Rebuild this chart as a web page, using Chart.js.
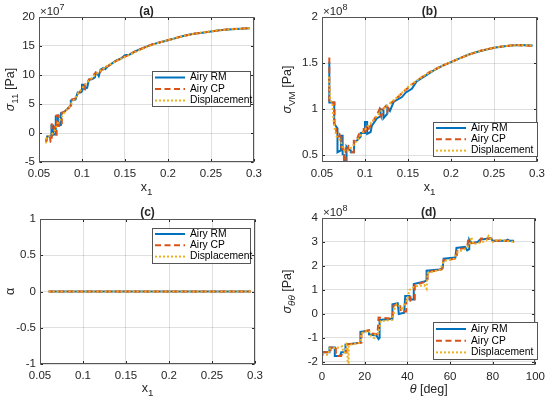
<!DOCTYPE html>
<html><head><meta charset="utf-8">
<script src="https://cdn.jsdelivr.net/npm/chart.js@4.4.0/dist/chart.umd.min.js"></script>
<style>
html,body{margin:0;padding:0;background:#fff;}
#wrap{position:relative;width:550px;height:402px;overflow:hidden;background:#fff;}
canvas{position:absolute;}
</style></head><body>
<div id="wrap">
<canvas id="ca" width="275" height="201" style="left:0px;top:0px"></canvas>
<canvas id="cb" width="275" height="201" style="left:275px;top:0px"></canvas>
<canvas id="cc" width="275" height="201" style="left:0px;top:201px"></canvas>
<canvas id="cd" width="275" height="201" style="left:275px;top:201px"></canvas>
</div>
<script>
// ---------- data ----------
const seriesNames = ['Airy RM', 'Airy CP', 'Displacement'];

// x-axis ticks
const x1Ticks = [0.05, 0.1, 0.15, 0.2, 0.25, 0.3];
const thetaTicks = [0, 20, 40, 60, 80, 100];
// y-axis ticks
const aYTicks = [-5, 0, 5, 10, 15, 20];
const bYTicks = [0.5, 1, 1.5, 2];
const cYTicks = [-1, -0.5, 0, 0.5, 1];
const dYTicks = [-2, -1, 0, 1, 2, 3, 4];

// (a) sigma_11 [x1, value x1e7]
const aRM = [[0.0585,-1.5],[0.0595,-0.6],[0.0645,-0.5],[0.0645,1.3],[0.0665,1.3],[0.0665,-0.3],[0.0695,-0.2],[0.0695,2.9],[0.072,3.0],[0.072,1.3],[0.0755,1.4],[0.0755,3.4],[0.079,3.6],[0.082,4.0],[0.085,4.5],[0.087,4.7],[0.087,5.6],[0.0905,5.7],[0.0925,5.8],[0.095,7.0],[0.0985,7.0],[0.1,7.2],[0.1,8.3],[0.1025,8.3],[0.1025,7.6],[0.106,7.8],[0.108,9.2],[0.112,9.3],[0.115,9.6],[0.116,10.4],[0.118,10.2],[0.1195,9.8],[0.1215,10.9],[0.125,11.2],[0.127,11.0],[0.13,11.5],[0.135,12.0],[0.14,12.5],[0.145,12.8],[0.15,13.4],[0.155,13.5],[0.16,13.9],[0.165,14.3],[0.17,14.6],[0.18,15.2],[0.19,15.6],[0.2,16.0],[0.21,16.4],[0.22,16.8],[0.23,17.1],[0.24,17.3],[0.25,17.5],[0.26,17.7],[0.27,17.85],[0.28,17.95],[0.295,18.05]];
const aCP = [[0.058,-1.7],[0.0595,-0.6],[0.0625,-0.5],[0.0635,-1.5],[0.0648,-1.5],[0.0648,1.5],[0.068,1.5],[0.068,-0.3],[0.0705,-0.3],[0.0705,3.0],[0.073,3.0],[0.073,1.2],[0.0765,1.2],[0.0765,3.5],[0.08,3.7],[0.083,3.9],[0.086,4.6],[0.0885,5.0],[0.0885,5.8],[0.092,5.9],[0.094,6.6],[0.097,7.0],[0.1,7.5],[0.1035,7.5],[0.1035,8.3],[0.106,8.6],[0.108,9.2],[0.111,9.3],[0.1145,10.2],[0.117,10.4],[0.119,10.0],[0.121,10.5],[0.1235,11.0],[0.126,10.9],[0.128,11.4],[0.132,11.7],[0.137,12.2],[0.142,12.6],[0.147,13.0],[0.152,13.3],[0.157,13.7],[0.162,14.1],[0.167,14.4],[0.172,14.7],[0.182,15.3],[0.192,15.7],[0.202,16.1],[0.212,16.5],[0.222,16.85],[0.232,17.15],[0.242,17.35],[0.252,17.55],[0.262,17.75],[0.272,17.9],[0.282,18.0],[0.295,18.05]];
const aDP = [[0.058,-1.8],[0.059,-0.8],[0.062,-0.5],[0.065,-0.3],[0.068,0.4],[0.07,1.0],[0.072,1.8],[0.075,2.4],[0.078,3.2],[0.08,3.6],[0.085,4.4],[0.088,5.2],[0.09,5.6],[0.095,6.7],[0.1,7.7],[0.105,8.6],[0.11,9.3],[0.115,10.0],[0.12,10.6],[0.125,11.1],[0.13,11.6],[0.14,12.4],[0.15,13.1],[0.16,13.8],[0.17,14.5],[0.18,15.1],[0.19,15.6],[0.2,16.0],[0.21,16.4],[0.22,16.8],[0.23,17.1],[0.24,17.35],[0.25,17.55],[0.26,17.7],[0.27,17.85],[0.28,17.95],[0.295,18.05]];

// (b) sigma_VM [x1, value x1e8]
const bRM = [[0.0585,1.51],[0.0585,1.07],[0.0642,1.07],[0.0642,0.84],[0.068,0.79],[0.068,0.53],[0.072,0.55],[0.072,0.71],[0.074,0.71],[0.074,0.51],[0.0758,0.5],[0.0758,0.4],[0.0785,0.4],[0.0785,0.59],[0.0805,0.56],[0.0835,0.55],[0.0835,0.53],[0.0873,0.53],[0.0873,0.64],[0.091,0.66],[0.095,0.7],[0.095,0.74],[0.1,0.74],[0.1,0.86],[0.1025,0.86],[0.1025,0.73],[0.1065,0.75],[0.108,0.82],[0.114,0.9],[0.118,0.92],[0.118,1.0],[0.1215,0.98],[0.1215,0.9],[0.126,0.95],[0.126,1.02],[0.129,0.98],[0.1335,1.08],[0.143,1.13],[0.1475,1.18],[0.1545,1.22],[0.16,1.3],[0.17,1.36],[0.18,1.42],[0.19,1.47],[0.2,1.51],[0.21,1.55],[0.22,1.59],[0.23,1.62],[0.24,1.645],[0.25,1.665],[0.26,1.68],[0.27,1.69],[0.28,1.695],[0.295,1.69]];
const bCP = [[0.0585,1.56],[0.0585,1.07],[0.0645,1.07],[0.0645,0.83],[0.0665,0.8],[0.0665,0.7],[0.0705,0.7],[0.0705,0.73],[0.0725,0.73],[0.0725,0.58],[0.0755,0.55],[0.0755,0.42],[0.0775,0.42],[0.0775,0.6],[0.0805,0.6],[0.0805,0.53],[0.087,0.53],[0.087,0.67],[0.091,0.68],[0.094,0.75],[0.0985,0.75],[0.0985,0.8],[0.101,0.82],[0.101,0.75],[0.104,0.78],[0.107,0.83],[0.11,0.88],[0.113,0.92],[0.115,0.96],[0.117,1.0],[0.119,0.92],[0.121,1.0],[0.124,1.03],[0.126,0.97],[0.128,1.05],[0.135,1.1],[0.145,1.19],[0.155,1.27],[0.165,1.34],[0.175,1.4],[0.185,1.45],[0.195,1.49],[0.205,1.53],[0.215,1.57],[0.225,1.605],[0.235,1.635],[0.245,1.655],[0.255,1.675],[0.265,1.685],[0.275,1.695],[0.285,1.69],[0.295,1.685]];
const bDP = [[0.058,1.35],[0.0595,1.1],[0.062,1.07],[0.0635,0.88],[0.065,0.78],[0.067,0.7],[0.069,0.68],[0.071,0.66],[0.073,0.62],[0.075,0.56],[0.077,0.54],[0.08,0.55],[0.083,0.57],[0.086,0.6],[0.09,0.65],[0.094,0.7],[0.098,0.75],[0.102,0.8],[0.106,0.84],[0.11,0.88],[0.115,0.94],[0.12,0.99],[0.125,1.03],[0.13,1.07],[0.14,1.15],[0.15,1.24],[0.16,1.31],[0.17,1.37],[0.18,1.42],[0.19,1.47],[0.2,1.51],[0.21,1.55],[0.22,1.59],[0.23,1.62],[0.24,1.645],[0.25,1.665],[0.26,1.68],[0.27,1.69],[0.28,1.695],[0.295,1.69]];

// (c) alpha [x1, value]
const cRM = [[0.06,0],[0.295,0]];
const cCP = [[0.06,0],[0.295,0]];
const cDP = [[0.06,0],[0.295,0]];

// (d) sigma_thetatheta [theta deg, value x1e8]
const dRM = [[0,-1.6],[3.5,-1.6],[3.5,-1.4],[6,-1.4],[6,-1.75],[8.5,-1.75],[9,-1.6],[11,-1.6],[11,-1.28],[18,-1.2],[18,-0.75],[22,-0.7],[22,-0.85],[25.5,-0.9],[26.5,-1.05],[27,-1.0],[27,-0.25],[33,-0.2],[33,0.4],[35.5,0.45],[36,0.0],[38.5,0.05],[39,0.75],[41,0.75],[41,0.6],[43,0.6],[43,1.25],[48,1.35],[49,1.4],[49,1.8],[55,1.85],[56.5,1.9],[57,2.3],[62.5,2.35],[63,2.75],[67,2.8],[68,2.65],[69,2.7],[69,3.1],[70,2.95],[73,3.0],[74,3.1],[79,3.15],[80,3.05],[86,3.05],[87,3.1],[88,3.05],[90,3.05]];
const dCP = [[0,-1.6],[4,-1.6],[4,-1.4],[6.5,-1.4],[6.5,-1.75],[9,-1.75],[9.5,-1.65],[11.5,-1.6],[11.5,-1.28],[18.5,-1.2],[18.5,-0.75],[22,-0.68],[22.5,-0.8],[26,-0.85],[26.5,-0.15],[33,-0.2],[33.5,0.35],[36.5,0.4],[37,0.1],[39.5,0.1],[39.5,0.7],[41.5,0.7],[41.5,0.55],[43.5,0.6],[43.5,1.2],[48.5,1.35],[49.5,1.45],[49.5,1.75],[56,1.85],[57,2.25],[63,2.3],[63.5,2.7],[68,2.75],[68.5,3.1],[69.5,3.0],[70.5,2.95],[74,3.0],[74.5,3.15],[80,3.15],[80.5,3.05],[85,3.05],[87.5,3.05],[90,3.0]];
const dDP = [[0,-1.7],[3,-1.7],[3.5,-1.45],[8,-1.4],[9.5,-1.35],[10,-1.6],[11,-1.6],[11.5,-1.3],[12,-1.4],[12,-2.3],[12.5,-2.3],[12.5,-1.3],[18,-1.2],[18.5,-0.8],[22,-0.7],[23,-0.95],[24.5,-1.0],[25,-0.8],[26.5,-0.8],[27.5,-0.3],[33,-0.25],[34,0.2],[35,0.4],[37,0.3],[37.5,0.15],[38.5,0.35],[40,0.6],[41,1.0],[43.5,1.15],[48,1.2],[49,1.05],[49.5,1.7],[55.5,1.85],[57,2.2],[62,2.3],[63,2.55],[67,2.7],[69,2.85],[70,3.2],[71,2.9],[73,2.95],[77,3.05],[78,3.25],[80,3.0],[83,3.1],[86,3.05],[90,3.0]];

// ---------- styling / drawing ----------
const FAM = "'Liberation Sans', Arial, Helvetica, sans-serif";
Chart.defaults.font.family = FAM;
const COLORS = ['#0072BD', '#D95319', '#EDB120'];
const DASHES = [[], [6, 3.5], [2, 2]];
const GRID = 'rgba(38,38,38,0.15)';
const AXC = '#262626';

function richDraw(ctx, parts, cx, cy, rot, size, align) {
  const fontOf = p => {
    const s = (p.sub || p.sup) ? size * 0.78 : size;
    return (p.it ? 'italic ' : '') + (p.b ? 'bold ' : '') + s.toFixed(1) + 'px ' + FAM;
  };
  let w = 0;
  parts.forEach(p => { ctx.font = fontOf(p); p._w = ctx.measureText(p.t).width; w += p._w; });
  ctx.save();
  ctx.translate(cx, cy);
  ctx.rotate(rot);
  ctx.textBaseline = 'alphabetic';
  ctx.textAlign = 'left';
  let x = align === 'left' ? 0 : -w / 2;
  parts.forEach(p => {
    ctx.font = fontOf(p);
    const dy = p.sub ? size * 0.32 : (p.sup ? -size * 0.42 : 0);
    ctx.fillText(p.t, x, size * 0.35 + dy);
    x += p._w;
  });
  ctx.restore();
}

const matlabPlugin = {
  id: 'matlab',
  afterDraw(chart, args, o) {
    const ctx = chart.ctx, a = chart.chartArea;
    const xs = chart.scales.x, ys = chart.scales.y;
    const l = Math.round(a.left) + 0.5, r = Math.round(a.right) - 0.5;
    const t = Math.round(a.top) + 0.5, b = Math.round(a.bottom) - 0.5;
    ctx.save();
    ctx.strokeStyle = AXC; ctx.lineWidth = 1; ctx.setLineDash([]);
    ctx.beginPath();
    xs.ticks.forEach(tk => {
      const px = Math.round(xs.getPixelForValue(tk.value)) + 0.5;
      ctx.moveTo(px, b); ctx.lineTo(px, b - 2.5);
      ctx.moveTo(px, t); ctx.lineTo(px, t + 2.5);
    });
    ys.ticks.forEach(tk => {
      const py = Math.round(ys.getPixelForValue(tk.value)) + 0.5;
      ctx.moveTo(l, py); ctx.lineTo(l + 2.5, py);
      ctx.moveTo(r, py); ctx.lineTo(r - 2.5, py);
    });
    ctx.stroke();
    ctx.strokeStyle = '#555';
    ctx.strokeRect(l, t, r - l, b - t);
    const L = o.legend;
    ctx.fillStyle = '#fff';
    ctx.fillRect(L.x, L.y, L.w, L.h);
    ctx.strokeStyle = '#555'; ctx.lineWidth = 1;
    ctx.strokeRect(L.x + 0.5, L.y + 0.5, L.w, L.h);
    chart.data.datasets.forEach((ds, i) => {
      const yy = L.y + L.r0 + i * L.dy;
      ctx.strokeStyle = ds.borderColor; ctx.lineWidth = ds.borderWidth;
      ctx.setLineDash(ds.borderDash || []);
      ctx.beginPath(); ctx.moveTo(L.x + 3, yy); ctx.lineTo(L.x + 33, yy); ctx.stroke();
      ctx.setLineDash([]);
      ctx.fillStyle = '#000'; ctx.font = '10.3px ' + FAM;
      ctx.textBaseline = 'middle'; ctx.textAlign = 'left';
      ctx.fillText(ds.label, L.x + 38, yy);
    });
    ctx.fillStyle = AXC;
    const cxm = (a.left + a.right) / 2, cym = (a.top + a.bottom) / 2;
    richDraw(ctx, [{t: o.title, b: true}], cxm, 11, 0, 12);
    richDraw(ctx, o.xlabel, cxm, o.xlabelY, 0, 12.5);
    richDraw(ctx, o.ylabel, o.ylabelX, cym, -Math.PI / 2, 12.5);
    if (o.expo) richDraw(ctx, [{t: '×10'}, {t: o.expo, sup: true}], a.left + 1, 10.7, 0, 11.5, 'left');
    ctx.restore();
  }
};

function makeChart(id, cfg) {
  const W = 275, H = 201;
  const ar = cfg.area;
  return new Chart(document.getElementById(id), {
    type: 'line',
    data: {
      datasets: cfg.series.map((s, i) => ({
        label: seriesNames[i],
        data: s.map(p => ({x: p[0], y: p[1]})),
        borderColor: COLORS[i], borderWidth: 2, borderDash: DASHES[i],
        pointRadius: 0, fill: false, tension: 0,
        order: 2 - i
      }))
    },
    options: {
      responsive: false, animation: false,
      layout: {padding: {left: 0, top: ar[1], right: W - ar[2], bottom: 0}},
      plugins: {legend: {display: false}, tooltip: {enabled: false}, matlab: cfg.deco},
      scales: {
        x: {
          type: 'linear', min: cfg.xr[0], max: cfg.xr[1],
          afterBuildTicks: s => { s.ticks = cfg.xt.map(v => ({value: v})); },
          afterFit: s => { s.height = H - ar[3]; },
          grid: {color: GRID, drawTicks: false, lineWidth: 1},
          border: {display: false},
          ticks: {color: AXC, font: {size: 11.5}, padding: 5, maxRotation: 0, autoSkip: false, callback: v => String(v)}
        },
        y: {
          type: 'linear', min: cfg.yr[0], max: cfg.yr[1],
          afterBuildTicks: s => { s.ticks = cfg.yt.map(v => ({value: v})); },
          afterFit: s => { s.width = ar[0]; },
          grid: {color: GRID, drawTicks: false, lineWidth: 1},
          border: {display: false},
          ticks: {color: AXC, font: {size: 11.5}, padding: 4, autoSkip: false, callback: v => String(v)}
        }
      }
    },
    plugins: [matlabPlugin]
  });
}

const x1Label = [{t: 'x'}, {t: '1', sub: true}];

makeChart('ca', {
  series: [aRM, aCP, aDP], area: [39, 17, 254, 162],
  xr: [0.05, 0.3], yr: [-5, 20], xt: x1Ticks, yt: aYTicks,
  deco: {title: '(a)', xlabel: x1Label, xlabelY: 187, ylabelX: 10,
    ylabel: [{t: 'σ', it: true}, {t: '11', sub: true}, {t: ' [Pa]'}], expo: '7',
    legend: {x: 152, y: 71, w: 98, h: 35, r0: 6.5, dy: 11.5}}
});
makeChart('cb', {
  series: [bRM, bCP, bDP], area: [47, 17, 262, 162],
  xr: [0.05, 0.3], yr: [0.424, 2], xt: x1Ticks, yt: bYTicks,
  deco: {title: '(b)', xlabel: x1Label, xlabelY: 187, ylabelX: 12,
    ylabel: [{t: 'σ', it: true}, {t: 'VM', sub: true}, {t: ' [Pa]'}], expo: '8',
    legend: {x: 158, y: 122, w: 104, h: 34, r0: 6, dy: 11.3}}
});
makeChart('cc', {
  series: [cRM, cCP, cDP], area: [40, 18, 255, 163],
  xr: [0.05, 0.3], yr: [-1, 1], xt: x1Ticks, yt: cYTicks,
  deco: {title: '(c)', xlabel: x1Label, xlabelY: 187, ylabelX: 9.5,
    ylabel: [{t: 'α'}], expo: null,
    legend: {x: 152, y: 27, w: 98, h: 35, r0: 6, dy: 11.3}}
});
makeChart('cd', {
  series: [dRM, dCP, dDP], area: [47, 17, 262, 164],
  xr: [0, 100], yr: [-2.13, 4], xt: thetaTicks, yt: dYTicks,
  deco: {title: '(d)', xlabel: [{t: 'θ', it: true}, {t: ' [deg]'}], xlabelY: 187.5, ylabelX: 12,
    ylabel: [{t: 'σ', it: true}, {t: 'θθ', sub: true, it: true}, {t: ' [Pa]'}], expo: '8',
    legend: {x: 158, y: 121, w: 104, h: 37, r0: 7, dy: 11.7}}
});
</script>
</body></html>
